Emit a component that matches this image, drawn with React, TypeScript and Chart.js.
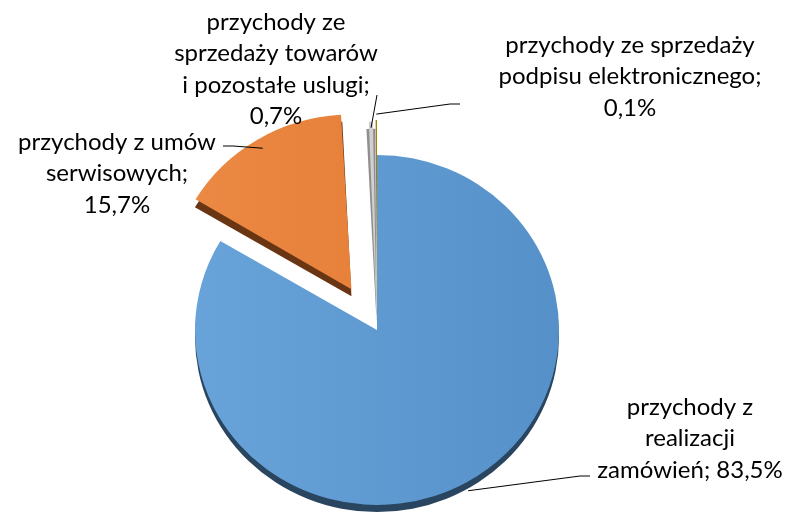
import React, { useEffect, useRef } from "react";
import { Chart, registerables } from "chart.js";

Chart.register(...registerables);

// ---- data ----
const categories = [
  "przychody z realizacji zamówień",
  "przychody z umów serwisowych",
  "przychody ze sprzedaży towarów i pozostałe uslugi",
  "przychody ze sprzedaży podpisu elektronicznego",
];
const shares = [83.5, 15.7, 0.7, 0.1];
const labelTemplates = [
  ["przychody z", "realizacji", "zamówień; {v}"],
  ["przychody z umów", "serwisowych;", "{v}"],
  ["przychody ze", "sprzedaży towarów", "i pozostałe uslugi;", "{v}"],
  ["przychody ze sprzedaży", "podpisu elektronicznego;", "{v}"],
];

// ---- style ----
const baseColors = ["#5b9bd5", "#e97f36", "#d2d2d2", "#ffc000"];
const lightColors = ["#68a3da", "#ec8a45", "#e2e2e2", "#ffcb33"];
const darkColors = ["#5591c8", "#e27830", "#bdbdbd", "#f2b600"];
const rimColors = ["#29455f", "#6a3513", "#8f8f8f", "#9c7600"];
const explodeOffsets = [0, 190, 60, 72];
const radiusTrim = [0, 8, -4, -6];
const PIE_R = 175;
const STRETCH_X = 1.04;
const RIM = 7;
const FONT = "24px Lato";
const LINE_H = 31.5;

// label layout: text centre x, first line centre y, leader anchor radius delta, leader path (elbow, end)
const labelLayout = [
  { x: 690, y: 407, dr: 2, rimAnchor: true, elbow: [580, 476], end: [590, 476] },
  { x: 117, y: 142, dr: -10, rimAnchor: false, elbow: [233, 146], end: [223, 146] },
  { x: 276, y: 22, dr: -6, rimAnchor: false, elbow: null, end: [377, 95] },
  { x: 630, y: 45, dr: -1, rimAnchor: false, elbow: [450, 104], end: [460, 104] },
];

const fmt = (v: number) => v.toFixed(1).replace(".", ",") + "%";

function arcGeom(arc: any, i: number) {
  const p = arc.getProps(["x", "y", "startAngle", "endAngle", "outerRadius", "circumference"], true);
  const off = (arc.options.offset || 0) / 4;
  const mid = (p.startAngle + p.endAngle) / 2;
  const fix = 1 - Math.sin(Math.min(Math.PI, p.circumference || 0));
  return {
    px: p.x,
    cx: p.x + Math.cos(mid) * off,
    cy: p.y + Math.sin(mid) * off,
    r: p.outerRadius + off * fix - radiusTrim[i],
    start: p.startAngle,
    end: p.endAngle,
    mid,
  };
}

const pieDepthPlugin = {
  id: "pie3d",
  beforeDatasetsDraw(chart: any) {
    const ctx = chart.ctx;
    const meta = chart.getDatasetMeta(0);
    const pivot = meta.data[0].x;
    meta.data.forEach((arc: any) => {
      arc._origOuter = arc.outerRadius;
    });
    ctx.save();
    ctx.translate(pivot, 0);
    ctx.scale(STRETCH_X, 1);
    ctx.translate(-pivot, 0);
    meta.data.forEach((arc: any, i: number) => {
      const g = arcGeom(arc, i);
      ctx.beginPath();
      ctx.moveTo(g.cx, g.cy + RIM);
      ctx.arc(g.cx, g.cy + RIM, g.r, g.start, g.end);
      ctx.closePath();
      ctx.fillStyle = rimColors[i];
      ctx.fill();
    });
    // per-slice radius trim (compensates chart.js offset growth) while drawing
    meta.data.forEach((arc: any, i: number) => {
      arc.outerRadius = arc._origOuter - radiusTrim[i];
    });
  },
  afterDatasetsDraw(chart: any) {
    const ctx = chart.ctx;
    ctx.restore();
    const meta = chart.getDatasetMeta(0);
    meta.data.forEach((arc: any) => {
      if (arc._origOuter !== undefined) arc.outerRadius = arc._origOuter;
    });
  },
};

const labelPlugin = {
  id: "pieLabels",
  afterDatasetsDraw(chart: any) {
    const ctx = chart.ctx;
    const meta = chart.getDatasetMeta(0);
    ctx.save();
    ctx.strokeStyle = "#000";
    ctx.lineWidth = 1;
    meta.data.forEach((arc: any, i: number) => {
      const g = arcGeom(arc, i);
      const L = labelLayout[i];
      const rawX = g.cx + Math.cos(g.mid) * (g.r + L.dr);
      const ax = g.px + (rawX - g.px) * STRETCH_X;
      const ay = g.cy + Math.sin(g.mid) * (g.r + L.dr) + (L.rimAnchor ? RIM : 0);
      ctx.beginPath();
      ctx.moveTo(ax, ay);
      if (L.elbow) ctx.lineTo(L.elbow[0], L.elbow[1]);
      ctx.lineTo(L.end[0], L.end[1]);
      ctx.stroke();
    });
    ctx.font = FONT;
    ctx.fillStyle = "#000";
    ctx.textAlign = "center";
    ctx.textBaseline = "middle";
    labelTemplates.forEach((lines, i) => {
      const L = labelLayout[i];
      lines.forEach((ln, j) => {
        ctx.fillText(ln.replace("{v}", fmt(shares[i])), L.x, L.y + j * LINE_H);
      });
    });
    ctx.restore();
  },
};

export default function App() {
  const ref = useRef<HTMLCanvasElement | null>(null);
  useEffect(() => {
    if (!ref.current) return;
    const chart = new Chart(ref.current, {
      type: "pie",
      data: {
        labels: categories,
        datasets: [
          {
            data: shares,
            radius: PIE_R,
            borderWidth: 0,
            offset: explodeOffsets,
            backgroundColor: (c: any) => {
              const ch = c.chart;
              const area = ch.chartArea;
              const i = c.dataIndex;
              if (!area) return baseColors[i];
              const cx = (area.left + area.right) / 2;
              const grad = ch.ctx.createLinearGradient(cx - 180, 0, cx + 180, 0);
              grad.addColorStop(0, lightColors[i]);
              grad.addColorStop(1, darkColors[i]);
              return grad;
            },
          } as any,
        ],
      },
      options: {
        animation: false,
        responsive: false,
        events: [],
        layout: { padding: { left: 0, right: 35, top: 145, bottom: 0 } },
        plugins: { legend: { display: false }, tooltip: { enabled: false } },
      },
      plugins: [pieDepthPlugin, labelPlugin],
    });
    return () => chart.destroy();
  }, []);
  return (
    <div style={{ position: "absolute", left: 0, top: 0, width: 789, height: 515, background: "#fff" }}>
      <canvas ref={ref} width={789} height={515} />
    </div>
  );
}
